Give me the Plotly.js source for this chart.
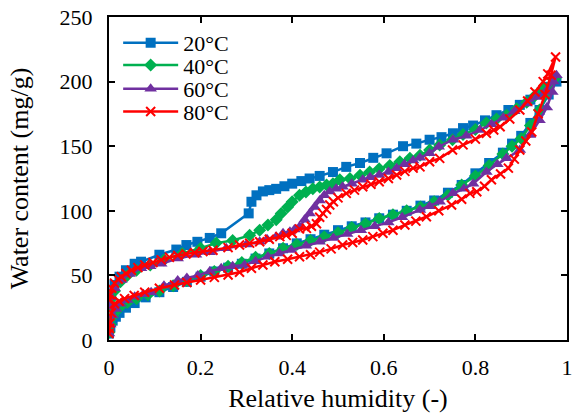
<!DOCTYPE html>
<html>
<head>
<meta charset="utf-8">
<script src="https://cdn.plot.ly/plotly-3.0.1.min.js"></script>
<style>html,body{margin:0;padding:0;background:#fff;}#chart{width:575px;height:417px;}</style>
</head>
<body>
<div id="chart"></div>
<script>
// 20°C: adsorption then desorption
var rh20 = [0, 0.003, 0.008, 0.015, 0.023, 0.037, 0.056, 0.08, 0.11, 0.14, 0.17, 0.2, 0.23, 0.26, 0.29, 0.32, 0.35, 0.38, 0.41, 0.44, 0.47, 0.5, 0.53, 0.56, 0.59, 0.62, 0.65, 0.68, 0.71, 0.74, 0.77, 0.8, 0.83, 0.86, 0.88, 0.9, 0.92, 0.94, 0.96, 0.977,
  0.96, 0.945, 0.92, 0.897, 0.872, 0.846, 0.821, 0.795, 0.773, 0.751, 0.726, 0.70, 0.671, 0.642, 0.606, 0.577, 0.548, 0.518, 0.489, 0.46, 0.438, 0.42, 0.40, 0.383, 0.365, 0.35, 0.336, 0.322, 0.311, 0.305, 0.245, 0.22, 0.193, 0.169, 0.147, 0.11, 0.07, 0.056, 0.037, 0.023, 0.012, 0.005, 0.001];
var wc20 = [5, 10, 15, 18, 21, 25, 28.6, 33, 37, 41, 45, 49, 53, 56, 59, 63, 67, 71, 74.8, 78, 81.5, 85, 88, 91, 94.2, 97, 100, 104, 108, 114, 120, 129, 137, 145, 152, 158, 168, 178, 190, 200,
  196, 192, 186, 182, 178, 174, 170, 166, 164, 160, 157, 155, 152, 150, 144.5, 141, 137, 134, 130, 127, 125, 123, 121, 119, 117, 116, 115, 112, 107, 98, 82.6, 79, 76, 73.5, 70, 66, 60.6, 59, 54, 49, 42.6, 36, 28];

// 40°C
var rh40 = [0, 0.003, 0.008, 0.015, 0.025, 0.04, 0.06, 0.085, 0.11, 0.14, 0.17, 0.2, 0.23, 0.26, 0.29, 0.32, 0.35, 0.38, 0.41, 0.44, 0.47, 0.5, 0.53, 0.56, 0.59, 0.62, 0.65, 0.68, 0.71, 0.74, 0.77, 0.8, 0.83, 0.86, 0.88, 0.9, 0.92, 0.94, 0.96, 0.975,
  0.97, 0.948, 0.93, 0.912, 0.89, 0.868, 0.846, 0.824, 0.8, 0.773, 0.75, 0.722, 0.70, 0.679, 0.657, 0.635, 0.613, 0.59, 0.569, 0.548, 0.526, 0.504, 0.489, 0.475, 0.46, 0.445, 0.43, 0.416, 0.40, 0.39, 0.376, 0.365, 0.347, 0.329, 0.307, 0.27, 0.234, 0.2, 0.16, 0.12, 0.09, 0.06, 0.04, 0.025, 0.012, 0.005, 0.001];
var wc40 = [6, 12, 18, 22, 26, 29, 32, 35, 38, 42, 46, 50, 53, 57, 60, 64, 67, 71, 74, 77, 80, 83, 87, 90, 94, 97, 100, 103, 107, 112, 120, 127, 135, 144, 150, 156, 166, 178, 192, 203,
  202, 195, 189, 184, 179, 174, 171, 168, 163, 159, 155, 151, 147, 143, 140.6, 138, 135, 132.5, 130, 127.5, 125, 124, 121, 120, 118.5, 117, 114.5, 112, 107, 103, 98, 93, 89, 85, 81, 77, 75, 71, 67, 62, 58, 54, 50, 45, 38, 32, 26];

// 60°C
var rh60 = [0, 0.003, 0.008, 0.015, 0.025, 0.04, 0.056, 0.075, 0.092, 0.12, 0.15, 0.17, 0.194, 0.22, 0.245, 0.27, 0.296, 0.32, 0.347, 0.372, 0.398, 0.43, 0.46, 0.49, 0.52, 0.55, 0.58, 0.61, 0.64, 0.679, 0.70, 0.722, 0.751, 0.775, 0.795, 0.824, 0.848, 0.868, 0.897, 0.919, 0.94, 0.956, 0.968, 0.977,
  0.97, 0.956, 0.935, 0.912, 0.885, 0.861, 0.835, 0.81, 0.78, 0.751, 0.72, 0.70, 0.679, 0.664, 0.645, 0.628, 0.61, 0.59, 0.57, 0.554, 0.53, 0.51, 0.496, 0.482, 0.47, 0.46, 0.449, 0.438, 0.427, 0.416, 0.405, 0.395, 0.38, 0.365, 0.345, 0.329, 0.30, 0.256, 0.22, 0.19, 0.15, 0.114, 0.09, 0.07, 0.045, 0.027, 0.012, 0.004, 0.0];
var wc60 = [5, 12, 19, 24, 28, 31, 33.5, 35.5, 37, 42, 46, 48, 50, 53, 55.5, 57, 58, 61, 64.5, 67, 69.6, 73, 76, 79, 82, 85, 88, 91, 95, 100.6, 103.5, 107, 113.6, 117, 121, 130, 136, 140.6, 147, 158.7, 170, 180, 192, 205,
  200, 193.5, 188, 183, 177, 172, 167, 162.5, 158, 155, 149.6, 144.5, 141, 139, 136, 133, 130, 127.7, 126, 124, 121, 118.6, 117, 115, 112, 108, 103, 98, 93, 87.7, 85.5, 83.8, 82.6, 80, 78, 76, 74, 71, 68, 66, 63, 59, 57, 55.5, 51, 46.4, 40, 33, 26];

// 80°C
var rh80 = [0, 0.001, 0.002, 0.005, 0.012, 0.022, 0.034, 0.055, 0.078, 0.11, 0.143, 0.17, 0.20, 0.23, 0.26, 0.285, 0.311, 0.336, 0.362, 0.39, 0.416, 0.44, 0.46, 0.485, 0.51, 0.532, 0.554, 0.576, 0.598, 0.62, 0.646, 0.67, 0.693, 0.72, 0.748, 0.77, 0.788, 0.803, 0.82, 0.835, 0.855, 0.872, 0.885, 0.897, 0.91, 0.923, 0.937, 0.952, 0.965, 0.975,
  0.958, 0.948, 0.93, 0.914, 0.897, 0.875, 0.854, 0.84, 0.824, 0.8, 0.773, 0.75, 0.722, 0.70, 0.679, 0.664, 0.646, 0.628, 0.61, 0.59, 0.572, 0.554, 0.536, 0.518, 0.50, 0.49, 0.482, 0.475, 0.467, 0.46, 0.453, 0.442, 0.431, 0.416, 0.40, 0.387, 0.373, 0.35, 0.329, 0.307, 0.285, 0.26, 0.227, 0.205, 0.187, 0.168, 0.15, 0.132, 0.114, 0.096, 0.078, 0.063, 0.049, 0.037, 0.027, 0.02, 0.012, 0.006, 0.002, 0.0];
var wc80 = [5, 9, 13, 21, 28, 30, 32, 34.5, 37, 40, 42.6, 44.5, 46.4, 48.5, 50.3, 52.5, 55.5, 58, 60.6, 62.5, 64.5, 66, 68, 70.5, 73.5, 75.5, 77.4, 80, 82.6, 85, 89, 92, 95.4, 100, 104.5, 109, 113.5, 114.8, 119, 124, 128.5, 133, 140, 147, 154, 161, 175, 190, 205, 219,
  206, 200, 192, 185, 178, 171, 165, 162.5, 160, 155.5, 151, 147, 140.6, 138, 134, 133, 130.5, 127.7, 125, 122.5, 120.5, 118.6, 116, 113.5, 110, 107, 104.5, 101, 98, 95, 90, 88, 86.4, 86, 82.6, 81, 80, 78, 76, 75, 73.5, 71.5, 69.5, 68.5, 67.5, 66.5, 65.5, 64, 62, 60, 58, 56, 54, 51.5, 49, 47, 44, 40, 35, 31];

var seriesNames = ['20°C', '40°C', '60°C', '80°C'];
var xTickVals = [0, 0.2, 0.4, 0.6, 0.8, 1];
var xTickText = ['0', '0.2', '0.4', '0.6', '0.8', '1'];
var yTickVals = [0, 50, 100, 150, 200, 250];

var FONT = 'Liberation Serif, Times New Roman, serif';
function tr(x, y, name, color, sym, size, leg, mline) {
  return {
    x: x, y: y, name: name, type: 'scatter', mode: 'lines+markers', legend: leg,
    line: {color: color, width: 2.5},
    marker: {symbol: sym, size: size, color: color, line: mline || {width: 0}}
  };
}
var data = [
  tr(rh20, wc20, seriesNames[0], '#0070C0', 'square', 10, 'legend'),
  tr(rh40, wc40, seriesNames[1], '#00B050', 'diamond', 10, 'legend2'),
  tr(rh60, wc60, seriesNames[2], '#7030A0', 'triangle-up', 11, 'legend3'),
  tr(rh80, wc80, seriesNames[3], '#FF0000', 'x-thin', 9, 'legend4', {color: '#FF0000', width: 2})
];
function leg(y) {
  return {x: 0.02, y: y, xanchor: 'left', yanchor: 'middle', bgcolor: 'rgba(0,0,0,0)',
    font: {family: FONT, size: 22, color: '#000'}, itemwidth: 55};
}
var axisCommon = {
  showline: true, linecolor: '#000', linewidth: 2, mirror: 'allticks',
  ticks: 'inside', ticklen: 6, tickwidth: 2, tickcolor: '#000',
  showgrid: false, zeroline: false,
  tickfont: {family: FONT, size: 22, color: '#000'}
};
var layout = {
  width: 575, height: 417,
  margin: {l: 109, r: 8, t: 17, b: 77},
  paper_bgcolor: '#fff', plot_bgcolor: '#fff',
  font: {family: FONT, color: '#000'},
  showlegend: true,
  legend: leg(0.920), legend2: leg(0.851), legend3: leg(0.777), legend4: leg(0.707),
  xaxis: Object.assign({}, axisCommon, {range: [0, 1], tickvals: xTickVals, ticktext: xTickText, ticklabelstandoff: 7,
    title: {text: 'Relative humidity (-)', font: {family: FONT, size: 26, color: '#000'}, standoff: 9}}),
  yaxis: Object.assign({}, axisCommon, {range: [0, 250], tickvals: yTickVals, ticklabelstandoff: 10,
    title: {text: 'Water content (mg/g)', font: {family: FONT, size: 26, color: '#000'}, standoff: 23}})
};
Plotly.newPlot('chart', data, layout, {displayModeBar: false, staticPlot: true});
</script>
</body>
</html>
